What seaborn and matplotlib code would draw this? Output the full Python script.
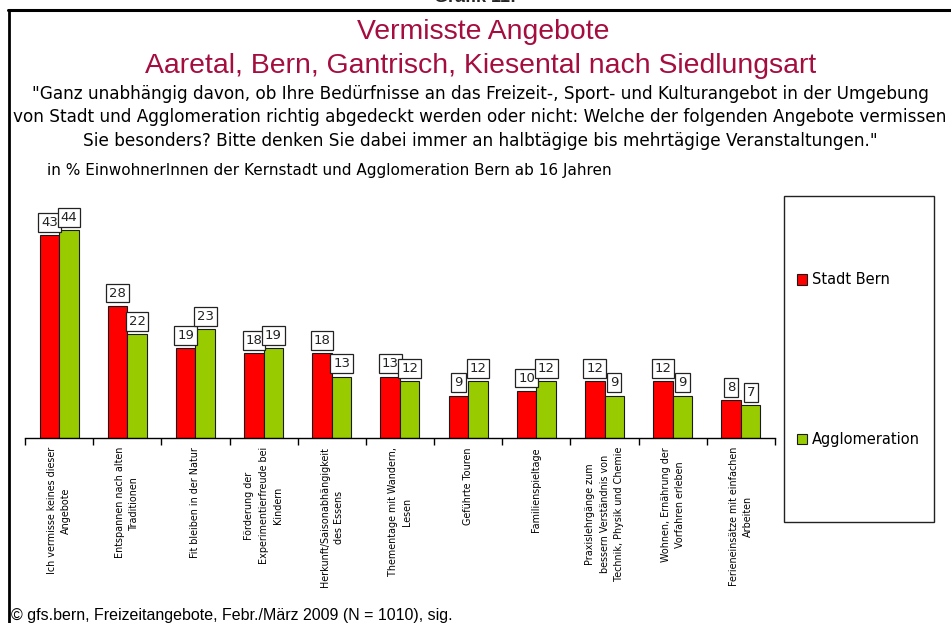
import matplotlib
matplotlib.use("Agg")
import matplotlib.pyplot as plt
import seaborn as sns
import pandas as pd
import numpy as np
from matplotlib.patches import Rectangle
from matplotlib.lines import Line2D

# ---------------- data ----------------
categories = [
    "Ich vermisse keines dieser\nAngebote",
    "Entspannen nach alten\nTraditionen",
    "Fit bleiben in der Natur",
    "Förderung der\nExperimentierfreude bei\nKindern",
    "Herkunft/Saisonabhängigkeit\ndes Essens",
    "Thementage mit Wandern,\nLesen",
    "Geführte Touren",
    "Familienspieltage",
    "Praxislehrgänge zum\nbessern Verständnis von\nTechnik, Physik und Chemie",
    "Wohnen, Ernährung der\nVorfahren erleben",
    "Ferieneinsätze mit einfachen\nArbeiten",
]
stadt_bern = [43, 28, 19, 18, 18, 13, 9, 10, 12, 12, 8]
agglomeration = [44, 22, 23, 19, 13, 12, 12, 12, 9, 9, 7]
series_names = ["Stadt Bern", "Agglomeration"]
series_colors = ["#FF0000", "#99CC00"]

header = "Grafik 11:"
title_1 = "Vermisste Angebote"
title_2 = "Aaretal, Bern, Gantrisch, Kiesental nach Siedlungsart"
question = [
    "\"Ganz unabhängig davon, ob Ihre Bedürfnisse an das Freizeit-, Sport- und Kulturangebot in der Umgebung",
    "von Stadt und Agglomeration richtig abgedeckt werden oder nicht: Welche der folgenden Angebote vermissen",
    "Sie besonders? Bitte denken Sie dabei immer an halbtägige bis mehrtägige Veranstaltungen.\"",
]
subtitle = "in % EinwohnerInnen der Kernstadt und Agglomeration Bern ab 16 Jahren"
source = "© gfs.bern, Freizeitangebote, Febr./März 2009 (N = 1010), sig."

# ---------------- style ----------------
sns.set_theme(style="white")
plt.rcParams["font.family"] = ["DejaVu Sans"]
ARIAL = ["Liberation Sans", "DejaVu Sans"]

W, H = 951, 623
fig = plt.figure(figsize=(W / 100, H / 100), dpi=100)
fig.patch.set_facecolor("white")

def fx(px):
    return px / W

def fy(py):
    return 1 - py / H

ax = fig.add_axes([fx(25), fy(438), fx(750), 236 / H])

df = pd.DataFrame({
    "Kategorie": categories * 2,
    "Gruppe": [series_names[0]] * len(categories) + [series_names[1]] * len(categories),
    "Wert": stadt_bern + agglomeration,
})

sns.barplot(
    data=df, x="Kategorie", y="Wert", hue="Gruppe",
    order=categories, hue_order=series_names,
    palette=dict(zip(series_names, series_colors)), saturation=1,
    width=0.572, gap=0, edgecolor="#1a1a1a", linewidth=0.8,
    errorbar=None, ax=ax,
)

ax.set_xlim(-0.5, len(categories) - 0.5)
ax.set_ylim(0, 50)
ax.set_xlabel("")
ax.set_ylabel("")
ax.set_yticks([])
for s in ["top", "right", "left"]:
    ax.spines[s].set_visible(False)
ax.spines["bottom"].set_color("black")
ax.spines["bottom"].set_linewidth(1.0)
ax.set_facecolor("white")

ax.set_xticks(range(len(categories)))
ax.set_xticklabels(categories, rotation=90, ha="center", va="top",
                   multialignment="center", fontsize=6.9, linespacing=1.55,
                   color="black")
ax.tick_params(axis="x", which="major", length=0, pad=6.5)
ax.set_xticks(np.arange(-0.5, len(categories), 1.0), minor=True)
ax.tick_params(axis="x", which="minor", length=5, width=1, color="black",
               direction="out", bottom=True)

for cont in ax.containers:
    ax.bar_label(cont, fmt="{:.0f}", padding=4.5, fontsize=9.5, color="#222222",
                 bbox=dict(boxstyle="square,pad=0.22", fc="white", ec="#222222", lw=0.9))

handles, labels = ax.get_legend_handles_labels()
if ax.get_legend() is not None:
    ax.get_legend().remove()

# legend box
fig.patches.append(Rectangle((fx(784), fy(522)), fx(150), 326 / H,
                             transform=fig.transFigure, fill=False,
                             ec="#222222", lw=1.0))
leg = fig.legend(handles, labels, loc="upper left",
                 bbox_to_anchor=(fx(797), fy(272.5)),
                 bbox_transform=fig.transFigure, frameon=False,
                 fontsize=10.5, handlelength=0.7, handleheight=0.7,
                 handletextpad=0.3, labelspacing=9.9, borderpad=0,
                 borderaxespad=0)
for t in leg.get_texts():
    t.set_color("black")

# frame lines
fig.add_artist(Line2D([fx(8), fx(951)], [fy(9.5), fy(9.5)], color="black", lw=2.2,
                      transform=fig.transFigure))
fig.add_artist(Line2D([fx(9), fx(9)], [fy(9.5), fy(623)], color="black", lw=2.0,
                      transform=fig.transFigure))

# texts
fig.text(fx(475), fy(1.5), header, ha="center", va="baseline",
         fontsize=13, fontweight="bold", family=ARIAL)
title_color = "#A50D3F"
fig.text(fx(483), fy(39), title_1, ha="center", va="baseline", fontsize=20.4,
         color=title_color, family=ARIAL)
fig.text(fx(481), fy(73), title_2, ha="center", va="baseline", fontsize=20.4,
         color=title_color, family=ARIAL)
for y, line in zip([99, 122, 146], question):
    fig.text(fx(480), fy(y), line, ha="center", va="baseline", fontsize=12.2,
             color="black")
fig.text(fx(47), fy(175), subtitle, ha="left", va="baseline", fontsize=11,
         color="black")
fig.text(fx(11), fy(620), source, ha="left", va="baseline", fontsize=11.5,
         color="black", family=ARIAL)

fig.savefig("out.png", dpi=100, facecolor="white")
